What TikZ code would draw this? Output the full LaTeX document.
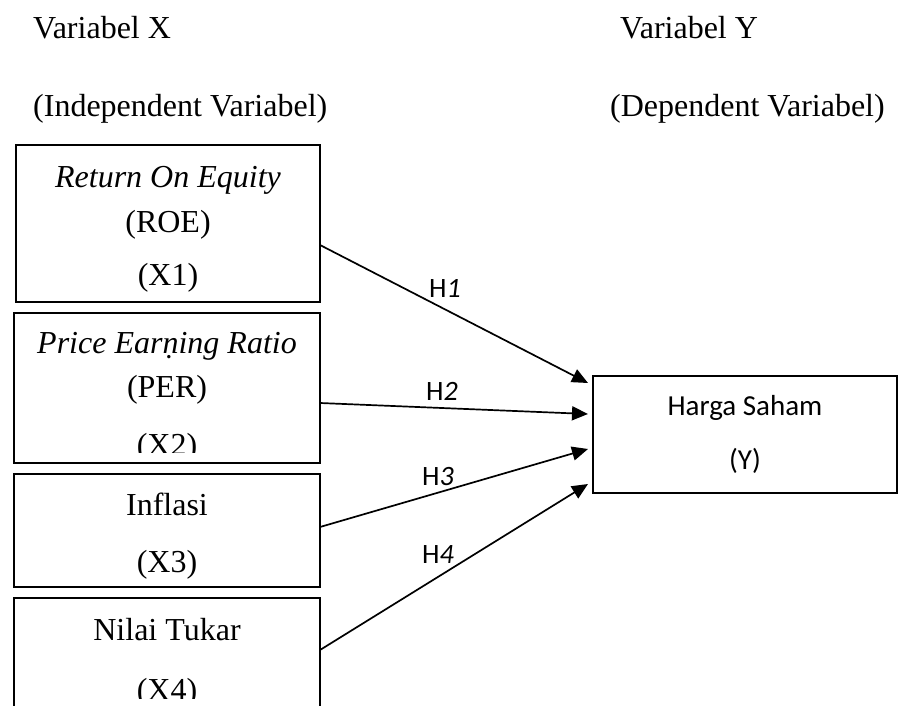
\documentclass[tikz,border=0pt]{standalone}
\usepackage{fontspec}
\setmainfont{Liberation Serif}
\newfontfamily\calfont{Carlito}
\usetikzlibrary{arrows.meta}
\begin{document}
\begin{tikzpicture}[x=1pt,y=-1pt,
  boxst/.style={draw,line width=2.2pt,inner sep=0pt},
  txt/.style={anchor=base,inner sep=0pt,font=\fontsize{32}{38}\selectfont},
  ytxt/.style={anchor=base,inner sep=0pt,font=\calfont\fontsize{29}{34}\selectfont},
  hlab/.style={inner sep=0pt,font=\calfont\fontsize{28}{33}\selectfont},
  arr/.style={line width=1.7pt,-{Triangle[length=16pt,width=14pt]}}]
\useasboundingbox (0,0) rectangle (899,706);
\clip (0,0) rectangle (899,706);
% headers
\node[txt,anchor=base west] (vx) at (33,39) {Variabel X};
\node[txt,anchor=base west] (vy) at (620,39) {Variabel Y};
\node[txt,anchor=base west] (ix) at (33,117) {(Independent Variabel)};
\node[txt,anchor=base west] (dy) at (610,117) {(Dependent Variabel)};
% boxes
\node[boxst,minimum width=304pt,minimum height=157pt] (b1) at (168,223.5) {};
\node[boxst,minimum width=306pt,minimum height=150pt] (b2) at (167,388) {};
\node[boxst,minimum width=306pt,minimum height=113pt] (b3) at (167,530.5) {};
\node[boxst,minimum width=306pt,minimum height=140pt] (b4) at (167,668) {};
\node[boxst,minimum width=304pt,minimum height=117pt] (y) at (745,434.5) {};
% box texts
\node[txt] (t1a) at (168,187) {\itshape Return On Equity};
\node[txt] (t1b) at (168,232) {(ROE)};
\node[txt] (t1c) at (168,285) {(X1)};
\node[txt] (t2a) at (167,353) {\itshape Price Earṇing Ratio};
\node[txt] (t2b) at (167,397) {(PER)};
\begin{scope}
\clip (0,0) rectangle (899,452);
\node[txt] (t2c) at (167,455) {(X2)};
\end{scope}
\node[txt] (t3a) at (167,515) {Inflasi};
\node[txt] (t3b) at (167,572) {(X3)};
\node[txt] (t4a) at (167,640) {Nilai Tukar};
\begin{scope}
\clip (0,0) rectangle (899,698);
\node[txt] (t4b) at (167,700) {(X4)};
\end{scope}
\node[ytxt] (ya) at (745,415) {Harga Saham};
\node[ytxt] (yb) at (745,469) {(Y)};
% arrow end points
\coordinate (s1) at (320,245);
\coordinate (s2) at (320,403);
\coordinate (s3) at (320,527);
\coordinate (s4) at (320,650);
\coordinate (e1) at (588,383);
\coordinate (e2) at (588,414);
\coordinate (e3) at (588,449);
\coordinate (e4) at (588,484);
\draw[arr] (s1) -- (e1);
\draw[arr] (s2) -- (e2);
\draw[arr] (s3) -- (e3);
\draw[arr] (s4) -- (e4);
% labels
\node[hlab] (h1) at (445,288) {H\textit{1}};
\node[hlab] (h2) at (442,391) {H\textit{2}};
\node[hlab] (h3) at (438,477) {H\textit{3}};
\node[hlab] (h4) at (438,555) {H\textit{4}};
\end{tikzpicture}
\end{document}
